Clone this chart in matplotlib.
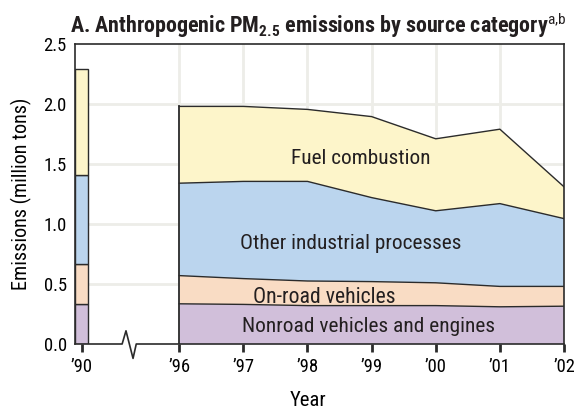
import numpy as np
import matplotlib
matplotlib.use("Agg")
import matplotlib.pyplot as plt
from matplotlib import font_manager

# Data (million tons)
years = ["\u201996", "\u201997", "\u201998", "\u201999", "\u201900", "\u201901", "\u201902"]
label_1990 = "\u201990"
categories = ["Nonroad vehicles and engines", "On-road vehicles",
              "Other industrial processes", "Fuel combustion"]

nonroad = [0.335, 0.33, 0.32, 0.32, 0.32, 0.31, 0.315]
onroad = [0.235, 0.215, 0.205, 0.20, 0.19, 0.17, 0.165]
industrial = [0.77, 0.81, 0.83, 0.70, 0.60, 0.69, 0.565]
fuel = [0.64, 0.625, 0.60, 0.675, 0.60, 0.62, 0.265]

values_1990 = [0.33, 0.34, 0.74, 0.88]

colors = ["#D1BFDA", "#F9DCC4", "#BBD5EE", "#FDF5CA"]
edge = "#2b2b2b"
grid_col = "#EDEDE8"


def pick_font(names):
    for name in names:
        try:
            font_manager.findfont(font_manager.FontProperties(family=name),
                                  fallback_to_default=False)
            return name
        except Exception:
            continue
    return "DejaVu Sans"


main_font = pick_font(["Liberation Sans Narrow", "Roboto Condensed", "Roboto",
                       "Liberation Sans"])
plt.rcParams["font.family"] = [main_font, "DejaVu Sans"]
plt.rcParams["mathtext.fontset"] = "custom"
plt.rcParams["mathtext.rm"] = main_font
plt.rcParams["mathtext.bf"] = main_font + ":bold"
plt.rcParams["text.color"] = "#231f20"

fig = plt.figure(figsize=(5.74, 4.12), dpi=100)
ax = fig.add_axes([75 / 574, 1 - 344 / 412, 489 / 574, 300 / 412])
renderer = fig.canvas.get_renderer()


def fit_width(t, width_px):
    # scale font size so the text spans about width_px pixels
    w = t.get_window_extent(renderer).width
    t.set_fontsize(t.get_fontsize() * width_px / w)


# x layout: '96 -> 0 ... '02 -> 6, 1990 bar placed left of an axis break
x = np.arange(len(years))
x90 = -1.52
xmin = -1.625

ax.set_xlim(xmin, 6)
ax.set_ylim(0, 2.5)

# grid
for gy in [0.5, 1.0, 1.5, 2.0]:
    ax.axhline(gy, color=grid_col, lw=2, zorder=0)
for gx in x[:-1]:
    ax.axvline(gx, color=grid_col, lw=2, zorder=0)

# stacked areas 1996-2002
series = [nonroad, onroad, industrial, fuel]
stacks = np.cumsum(np.array(series), axis=0)
base = np.zeros(len(years))
for i, top in enumerate(stacks):
    ax.fill_between(x, base, top, facecolor=colors[i], edgecolor="none", zorder=2)
    ax.plot(x, top, color=edge, lw=1.0, zorder=3)
    base = top
ax.plot([0, 0], [0, stacks[-1][0]], color=edge, lw=1.3, zorder=3)

# 1990 stacked bar
bottom = 0
for i, v in enumerate(values_1990):
    ax.bar(x90, v, width=0.21, bottom=bottom, color=colors[i], edgecolor=edge,
           linewidth=1.0, zorder=3)
    bottom += v

# labels inside the areas
t_fuel = ax.text(2.83, 1.55, categories[3], ha="center", va="center", fontsize=15, zorder=4)
t_ind = ax.text(2.67, 0.84, categories[2], ha="center", va="center", fontsize=15, zorder=4)
t_on = ax.text(2.26, 0.39, categories[1], ha="center", va="center", fontsize=15, zorder=4)
t_non = ax.text(2.95, 0.15, categories[0], ha="center", va="center", fontsize=15, zorder=4)
fit_width(t_fuel, 140)
fit_width(t_ind, 222)
fit_width(t_on, 143)
fit_width(t_non, 253)

# spines and broken bottom axis
for s in ["top", "left", "right"]:
    ax.spines[s].set_color(edge)
    ax.spines[s].set_linewidth(1.2)
ax.spines["bottom"].set_visible(False)
zx = [xmin, -0.89, -0.83, -0.72, -0.67, 6]
zy = [0, 0, 0.11, -0.12, 0, 0]
ax.plot(zx, zy, color=edge, lw=1.2, clip_on=False, zorder=5)

ax.set_xticks([x90] + list(x))
ax.set_xticklabels([label_1990] + years, fontsize=13)
ax.set_yticks([0, 0.5, 1.0, 1.5, 2.0, 2.5])
ax.set_yticklabels(["0.0", "0.5", "1.0", "1.5", "2.0", "2.5"], fontsize=13)
ax.tick_params(axis="x", direction="out", length=6, width=2, color=edge, pad=4)
ax.tick_params(axis="y", length=0, pad=6)
tl = ax.get_xticklabels()[2]
ratio = 22 / tl.get_window_extent(renderer).width
for lab in ax.get_xticklabels() + ax.get_yticklabels():
    lab.set_fontsize(13 * ratio)

xl = ax.set_xlabel("Year", fontsize=14)
ax.xaxis.set_label_coords(0.477, -0.155)
fit_width(xl, 37)
ax.set_ylabel("Emissions (million tons)", fontsize=14.5)
ax.yaxis.set_label_coords(-0.088, 0.5)

title = fig.text(70 / 574, 1 - 26 / 412,
                 r"A. Anthropogenic PM$_{\mathbf{2.5}}$ emissions by source category$^{\mathrm{a{,}b}}$",
                 fontsize=13, fontweight="bold", va="center", ha="left")
fit_width(title, 495)

fig.savefig("out.png", dpi=100)
